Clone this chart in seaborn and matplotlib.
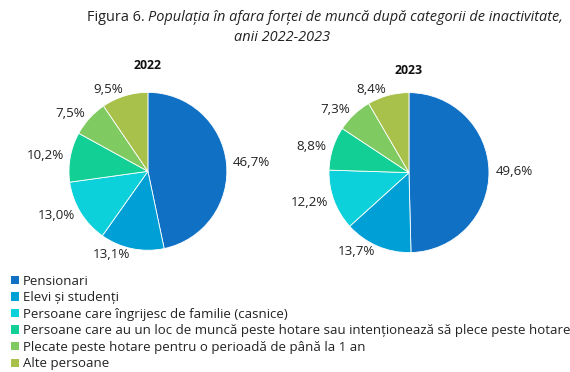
import matplotlib

matplotlib.use("Agg")

import matplotlib.pyplot as plt
import seaborn as sns
from matplotlib.patches import Patch

CATEGORIES = [
    "Pensionari",
    "Elevi și studenți",
    "Persoane care îngrijesc de familie (casnice)",
    "Persoane care au un loc de muncă peste hotare sau intenționează să plece peste hotare",
    "Plecate peste hotare pentru o perioadă de până la 1 an",
    "Alte persoane",
]
VALUES_2022 = [46.7, 13.1, 13.0, 10.2, 7.5, 9.5]
VALUES_2023 = [49.6, 13.7, 12.2, 8.8, 7.3, 8.4]
YEARS = ["2022", "2023"]
COLORS = ["#1070C4", "#00A0D6", "#0CD0DA", "#12CF96", "#7FCB62", "#A8C14A"]

sns.set_theme(style="white")
plt.rcParams["font.family"] = ["Open Sans", "DejaVu Sans"]
palette = sns.color_palette(COLORS)
TXT = "#222222"


def fmt(value: float) -> str:
    return f"{value:.1f}%".replace(".", ",")


def draw_pie(ax, values, year, pad):
    ax.pie(
        values,
        colors=palette,
        startangle=90,
        counterclock=False,
        labels=[fmt(v) for v in values],
        labeldistance=1.08,
        wedgeprops={"edgecolor": "white", "linewidth": 0.6},
        textprops={"fontsize": 9.6, "color": TXT},
    )
    ax.set_xlim(-1, 1)
    ax.set_ylim(-1, 1)
    ax.set_aspect("equal")
    ax.set_title(year, fontsize=8.8, fontweight="bold", pad=pad, color="#111111")


fig = plt.figure(figsize=(5.7, 3.72), dpi=100)

# title: normal prefix + italic rest, centred as one line
renderer = fig.canvas.get_renderer()
t1 = fig.text(0, 0.952, "Figura 6. ", ha="left", va="center", fontsize=10.45, color=TXT)
t2 = fig.text(0, 0.952, "Populația în afara forței de muncă după categorii de inactivitate,",
              ha="left", va="center", fontsize=10.45, style="italic", color=TXT)
w1 = t1.get_window_extent(renderer).width / fig.bbox.width
w2 = t2.get_window_extent(renderer).width / fig.bbox.width
x0 = 0.570 - (w1 + w2) / 2
t1.set_x(x0)
t2.set_x(x0 + w1)
fig.text(0.495, 0.90, "anii 2022-2023", ha="center", va="center", fontsize=10.45,
         style="italic", color=TXT)

ax1 = fig.add_axes([0.121, 0.327, 0.277, 0.425])
ax2 = fig.add_axes([0.577, 0.321, 0.281, 0.430])
draw_pie(ax1, VALUES_2022, YEARS[0], 17)
draw_pie(ax2, VALUES_2023, YEARS[1], 13.5)

handles = [Patch(facecolor=c, edgecolor="none") for c in palette]
fig.legend(
    handles,
    CATEGORIES,
    loc="upper left",
    bbox_to_anchor=(0.020, 0.262),
    frameon=False,
    fontsize=9.5,
    handlelength=0.6,
    handleheight=0.6,
    handletextpad=0.25,
    labelspacing=0.27,
    borderaxespad=0,
    borderpad=0,
    labelcolor=TXT,
)

fig.savefig("out.png", dpi=100)
